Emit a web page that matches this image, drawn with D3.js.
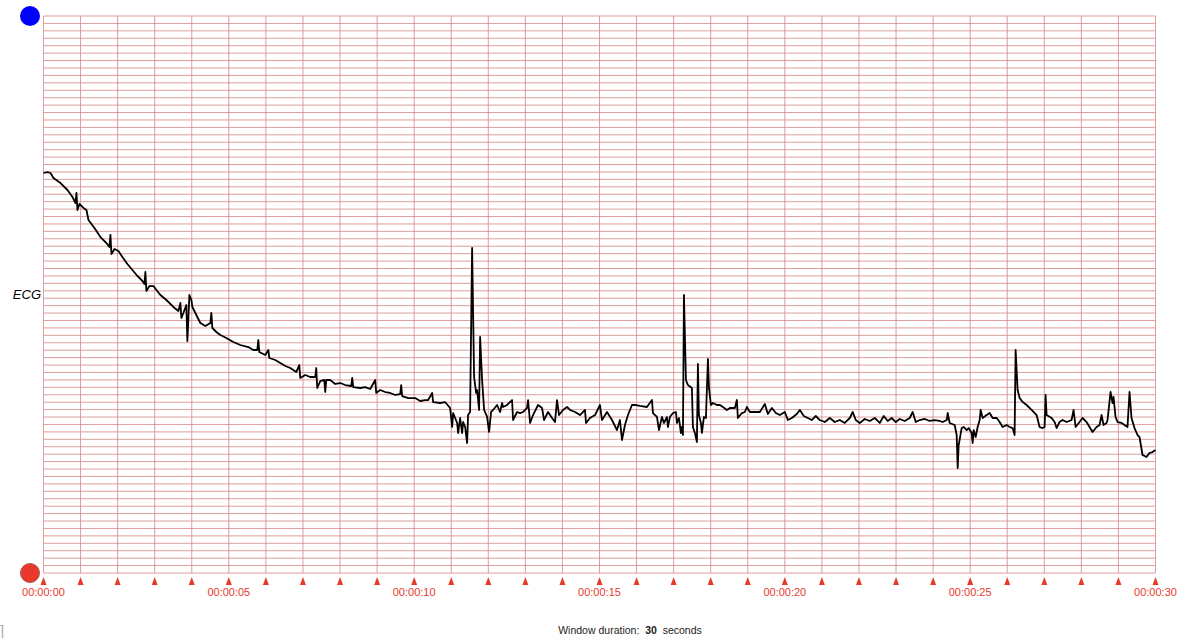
<!DOCTYPE html>
<html>
<head>
<meta charset="utf-8">
<script src="https://cdn.jsdelivr.net/npm/d3@7"></script>
<style>
  html, body { margin: 0; padding: 0; background: #fff; }
  svg { display: block; font-family: "Liberation Sans", Arial, sans-serif; }
</style>
</head>
<body>
<svg id="chart" width="1182" height="638"></svg>
<script>
// ---- data ----
const channelName = "ECG";
const windowSeconds = 30;
const timeLabels = ["00:00:00", "00:00:05", "00:00:10", "00:00:15", "00:00:20", "00:00:25", "00:00:30"];
const labelSeconds = [0, 5, 10, 15, 20, 25, 30];
const amplitudeDomain = [-3.75, 3.75]; // mV, 0.1 mV per grid row

// time (s)
const ecgTime = [
  0, 0.108, 0.189, 0.270, 0.458, 0.647, 0.782, 0.863, 0.889, 0.916, 0.970, 1.078, 1.159, 1.213, 1.375, 1.536,
  1.698, 1.779, 1.806, 1.833, 1.914, 2.022, 2.129, 2.264, 2.399, 2.534, 2.668, 2.722, 2.749, 2.776, 2.857, 2.965,
  3.046, 3.154, 3.315, 3.504, 3.639, 3.693, 3.720, 3.774, 3.854, 3.881, 3.908, 3.935, 3.989, 4.016, 4.124, 4.232,
  4.367, 4.501, 4.528, 4.555, 4.663, 4.771, 4.933, 5.121, 5.310,
  5.526, 5.660, 5.768, 5.795, 5.822, 5.984, 6.065, 6.092, 6.253, 6.388, 6.523, 6.658, 6.819, 6.900, 6.927, 7.062,
  7.197, 7.331, 7.358, 7.385, 7.466, 7.574, 7.601, 7.628, 7.736, 7.871, 8.005, 8.140, 8.302, 8.329, 8.356, 8.544,
  8.679, 8.814, 8.949, 8.976, 9.083, 9.218, 9.353, 9.488, 9.623, 9.650, 9.676, 9.838, 10.027, 10.162, 10.296,
  10.377, 10.485, 10.512, 10.701, 10.835,
  10.970, 11.024, 11.051, 11.159, 11.186, 11.240, 11.294, 11.321, 11.375, 11.428, 11.455, 11.509, 11.563, 11.617,
  11.671, 11.698, 11.752, 11.779, 11.833, 11.887, 11.968, 12.021, 12.075, 12.129, 12.237, 12.318, 12.372, 12.399,
  12.507, 12.641, 12.668, 12.776, 12.857, 12.938, 13.046, 13.073, 13.127, 13.207, 13.342, 13.450, 13.504, 13.612,
  13.720, 13.800, 13.854, 13.908, 14.016, 14.124, 14.205,
  14.340, 14.474, 14.609, 14.636, 14.744, 14.879, 15.013, 15.067, 15.202, 15.337, 15.472, 15.552, 15.606, 15.687,
  15.768, 15.876, 15.984,
  16.092, 16.280, 16.415, 16.442, 16.550, 16.604, 16.685, 16.739, 16.819, 16.846, 16.900, 16.981, 17.062, 17.089,
  17.143, 17.197, 17.224, 17.251, 17.278, 17.332, 17.385, 17.493, 17.520, 17.574, 17.628, 17.655, 17.682, 17.736,
  17.763, 17.817, 17.871, 17.925, 17.952, 18.005, 18.059, 18.167, 18.248, 18.329, 18.437, 18.518, 18.652, 18.706,
  18.733, 18.841, 18.922, 18.976, 19.057, 19.191,
  19.326, 19.461, 19.542, 19.650, 19.757, 19.865, 20.000, 20.081, 20.189, 20.323, 20.404, 20.512, 20.620, 20.728,
  20.835, 20.943, 21.078, 21.213, 21.348, 21.482, 21.617, 21.752, 21.833, 21.914, 22.021, 22.156, 22.291, 22.426,
  22.561, 22.668, 22.776, 22.884, 22.992, 23.100, 23.235, 23.369, 23.450, 23.531, 23.639, 23.774, 23.908, 24.043,
  24.178, 24.259, 24.367, 24.394, 24.447, 24.582, 24.636, 24.663, 24.690, 24.771, 24.825, 24.906, 24.960, 25.040,
  25.067, 25.094, 25.148, 25.202, 25.256, 25.283, 25.337, 25.445, 25.526, 25.606, 25.714, 25.795, 25.876, 25.984,
  26.065, 26.146, 26.199, 26.226, 26.280, 26.334, 26.415, 26.523, 26.658, 26.792, 26.873, 26.954, 27.008, 27.035,
  27.062, 27.197, 27.278, 27.332, 27.412, 27.493, 27.601, 27.736, 27.790, 27.844, 27.951, 28.032, 28.140, 28.221,
  28.302, 28.410, 28.491, 28.545, 28.598, 28.679, 28.706, 28.787, 28.841, 28.868, 28.922, 28.976, 29.084, 29.164,
  29.245, 29.299, 29.353, 29.434, 29.515, 29.569, 29.650, 29.757, 29.838, 29.919, 30.000
];
// amplitude (mV)
const ecgValue = [
  1.636, 1.649, 1.636, 1.569, 1.501, 1.407, 1.313, 1.232, 1.367, 1.138, 1.219, 1.165, 1.138, 1.003, 0.895, 0.774,
  0.693, 0.640, 0.801, 0.545, 0.613, 0.586, 0.505, 0.411, 0.330, 0.249, 0.182, 0.141, 0.303, 0.047, 0.114, 0.114,
  0.061, -0.007, -0.074, -0.168, -0.222, -0.114, -0.316, -0.249, -0.141, -0.626, -0.343, -0.007, -0.074, -0.168, -0.276, -0.384,
  -0.424, -0.384, -0.249, -0.451, -0.505, -0.545, -0.586, -0.640, -0.680,
  -0.707, -0.747, -0.747, -0.613, -0.774, -0.815, -0.747, -0.855, -0.882, -0.922, -0.963, -0.990, -1.044, -0.949, -1.124, -1.084,
  -1.111, -1.111, -0.990, -1.259, -1.165, -1.151, -1.313, -1.151, -1.151, -1.205, -1.192, -1.219, -1.232, -1.124, -1.246, -1.259,
  -1.246, -1.272, -1.151, -1.326, -1.286, -1.313, -1.326, -1.353, -1.340, -1.219, -1.367, -1.394, -1.394, -1.434, -1.421,
  -1.421, -1.326, -1.448, -1.461, -1.448,
  -1.528, -1.784, -1.596, -1.730, -1.865, -1.663, -1.865, -1.717, -1.784, -2.000, -1.623, -1.582, 0.626, -1.111,
  -1.326, -1.286, -1.555, -0.572, -1.151, -1.555, -1.649, -1.851, -1.582, -1.555, -1.488, -1.582, -1.461, -1.515,
  -1.488, -1.421, -1.690, -1.582, -1.596, -1.582, -1.528, -1.421, -1.730, -1.623, -1.488, -1.528, -1.690, -1.582,
  -1.663, -1.717, -1.421, -1.623, -1.555, -1.515, -1.555,
  -1.582, -1.623, -1.555, -1.730, -1.663, -1.623, -1.488, -1.690, -1.582, -1.690, -1.825, -1.690, -1.959, -1.757,
  -1.623, -1.488, -1.488,
  -1.501, -1.515, -1.421, -1.596, -1.649, -1.825, -1.649, -1.730, -1.649, -1.784, -1.649, -1.596, -1.582, -1.730,
  -1.663, -1.865, -1.784, -1.892, -0.007, -1.151, -1.219, -1.259, -1.784, -1.865, -1.986, -0.936, -1.623, -1.730,
  -1.865, -1.649, -1.663, -0.868, -1.246, -1.488, -1.461, -1.488, -1.488, -1.515, -1.555, -1.528, -1.528, -1.421,
  -1.663, -1.596, -1.582, -1.515, -1.582, -1.582,
  -1.582, -1.474, -1.609, -1.528, -1.596, -1.623, -1.582, -1.690, -1.663, -1.609, -1.555, -1.636, -1.663, -1.690,
  -1.636, -1.690, -1.717, -1.663, -1.717, -1.690, -1.730, -1.663, -1.582, -1.690, -1.730, -1.676, -1.703, -1.663,
  -1.730, -1.636, -1.703, -1.663, -1.717, -1.676, -1.703, -1.663, -1.582, -1.717, -1.690, -1.676, -1.703, -1.690,
  -1.703, -1.717, -1.690, -1.596, -1.730, -1.757, -1.892, -2.336, -2.027, -1.798, -1.784, -1.825, -1.798, -1.865,
  -2.000, -1.825, -1.919, -1.784, -1.690, -1.555, -1.663, -1.623, -1.596, -1.663, -1.663, -1.717, -1.784, -1.757,
  -1.784, -1.798, -1.892, -0.747, -1.286, -1.394, -1.448, -1.488, -1.555, -1.623, -1.784, -1.798, -1.784, -1.353,
  -1.623, -1.663, -1.717, -1.798, -1.717, -1.690, -1.717, -1.690, -1.555, -1.784, -1.717, -1.663, -1.717, -1.784,
  -1.852, -1.784, -1.757, -1.623, -1.757, -1.730, -1.690, -1.313, -1.461, -1.380, -1.649, -1.717, -1.730, -1.757,
  -1.784, -1.313, -1.663, -1.798, -1.892, -1.919, -2.161, -2.188, -2.134, -2.121, -2.094
];

// ---- layout ----
const plot = { left: 43.5, right: 1155.5, top: 16, bottom: 573 };
const svg = d3.select("#chart");

const x = d3.scaleLinear().domain([0, windowSeconds]).range([plot.left, plot.right]);
const y = d3.scaleLinear().domain(amplitudeDomain).range([plot.bottom, plot.top]);

const gridColor = "#d48686";
const redColor = "#e8392c";

// horizontal grid (every 0.1 mV)
const rows = d3.range(0, 76).map(i => amplitudeDomain[0] + i * 0.1);
svg.append("g").selectAll("line").data(rows).join("line")
  .attr("x1", plot.left).attr("x2", plot.right)
  .attr("y1", d => y(d)).attr("y2", d => y(d))
  .attr("stroke", gridColor).attr("stroke-width", 1).attr("stroke-opacity", 0.8);

// vertical grid (every second)
const secs = d3.range(0, windowSeconds + 1);
svg.append("g").selectAll("line").data(secs).join("line")
  .attr("x1", d => x(d)).attr("x2", d => x(d))
  .attr("y1", plot.top).attr("y2", plot.bottom)
  .attr("stroke", gridColor).attr("stroke-width", 1).attr("stroke-opacity", 0.8);

// tick triangles
svg.append("g").selectAll("path").data(secs).join("path")
  .attr("d", d => `M${x(d) - 3},${plot.bottom + 12} L${x(d)},${plot.bottom + 4} L${x(d) + 3},${plot.bottom + 12} Z`)
  .attr("fill", redColor);

// time labels
svg.append("g").selectAll("text").data(labelSeconds).join("text")
  .attr("x", d => x(d)).attr("y", plot.bottom + 23)
  .attr("text-anchor", "middle")
  .attr("font-size", 11)
  .attr("fill", redColor)
  .text((d, i) => timeLabels[i]);

// ECG line
const pts = ecgTime.map((t, i) => [t, ecgValue[i]]);
svg.append("path")
  .datum(pts)
  .attr("fill", "none")
  .attr("stroke", "#000")
  .attr("stroke-width", 1.8)
  .attr("stroke-linejoin", "round")
  .attr("d", d3.line().x(d => x(d[0])).y(d => y(d[1])));

// channel label at 0 mV
svg.append("text")
  .attr("x", 41).attr("y", y(0) + 4.5)
  .attr("text-anchor", "end")
  .attr("font-size", 13)
  .attr("font-style", "italic")
  .attr("fill", "#000")
  .text(channelName);

// scale handles
svg.append("circle").attr("cx", 30).attr("cy", plot.top).attr("r", 10).attr("fill", "#0000ff");
svg.append("circle").attr("cx", 30).attr("cy", plot.bottom).attr("r", 9.5)
  .attr("fill", redColor).attr("stroke", "#a85a55").attr("stroke-width", 1);

// window duration caption
const cap = svg.append("text")
  .attr("x", 630).attr("y", 634)
  .attr("text-anchor", "middle")
  .attr("font-size", 10.5)
  .attr("fill", "#222");
cap.append("tspan").text("Window duration:\u00a0 ");
cap.append("tspan").attr("font-weight", "bold").text(windowSeconds);
cap.append("tspan").text("\u00a0 seconds");

// glyph at bottom-left
svg.append("text").attr("x", 0).attr("y", 636).attr("font-size", 15).attr("fill", "#aaa").text("]");
</script>
</body>
</html>
